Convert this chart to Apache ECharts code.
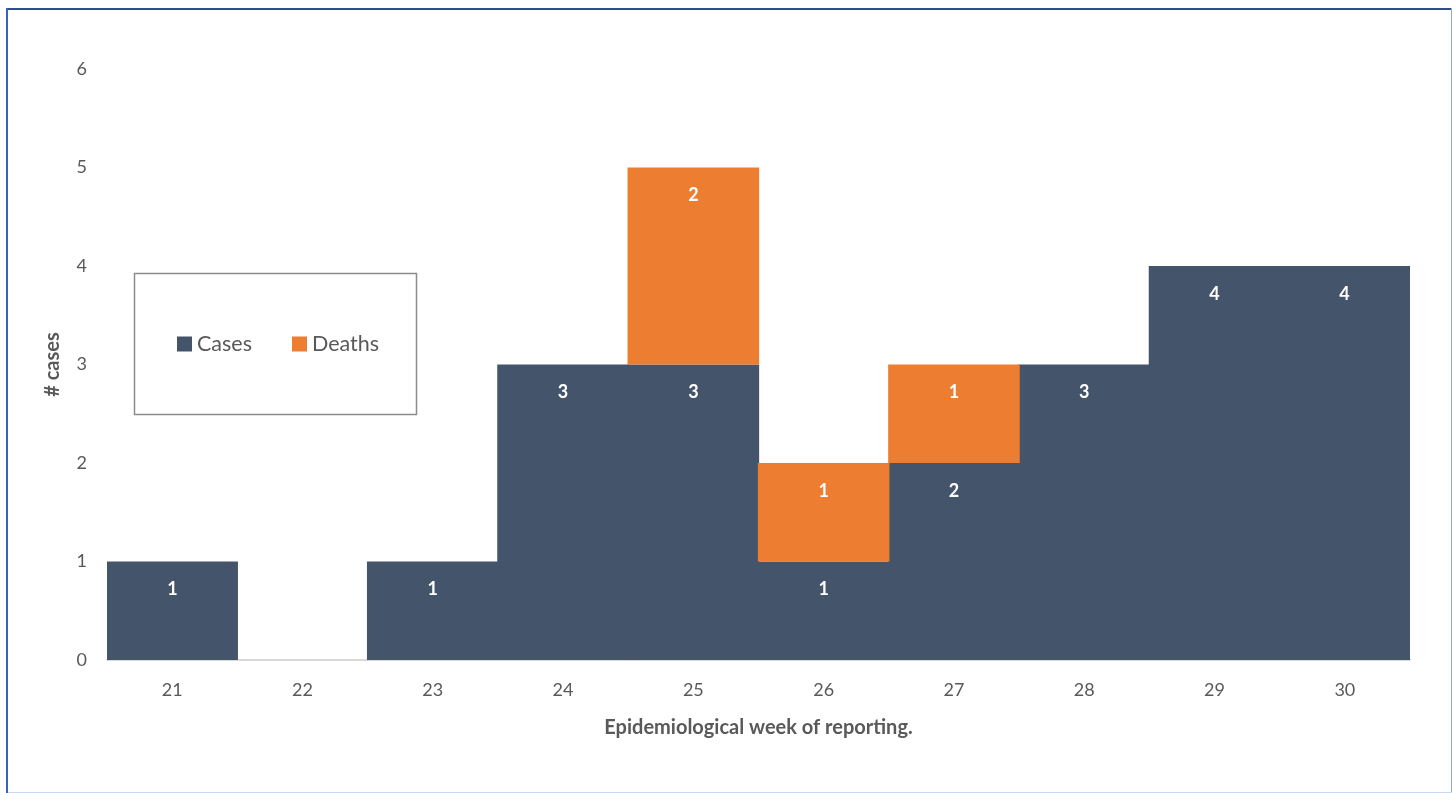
<!DOCTYPE html>
<html>
<head>
<meta charset="utf-8">
<script src="https://cdn.jsdelivr.net/npm/echarts@6/dist/echarts.min.js"></script>
<style>
  html, body { margin: 0; padding: 0; background: #fff; }
  #frame { position: absolute; left: 0; top: 0; width: 1452px; height: 793px; overflow: hidden; }
  #chart { position: absolute; left: 0; top: 0; width: 1452px; height: 793px; }
  .edge { position: absolute; }
</style>
</head>
<body>
<div id="frame">
  <div id="chart"></div>
  <div class="edge" style="left:6px; top:8px; width:1446px; height:2px; background:#2F4E8C;"></div>
  <div class="edge" style="left:6px; top:8px; width:2px; height:785px; background:#3A62B8;"></div>
  <div class="edge" style="left:1451px; top:8px; width:1px; height:785px; background:#8EA9DB;"></div>
  <div class="edge" style="left:8px; top:792px; width:1444px; height:1px; background:#C9D8EE;"></div>
</div>
<script>
// Weekly counts by epidemiological week
const weeks = ['21', '22', '23', '24', '25', '26', '27', '28', '29', '30'];
const cases = [1, 0, 1, 3, 3, 1, 2, 3, 4, 4];
const deaths = [0, 0, 0, 0, 2, 1, 1, 0, 0, 0];

const FONT = 'Lato, "Open Sans", sans-serif';

// empty weeks get no bar segment at all
const asBars = arr => arr.map(v => (v ? v : '-'));

const chart = echarts.init(document.getElementById('chart'));

const barLabel = {
  show: true,
  position: 'insideTop',
  distance: 19,
  color: '#ffffff',
  fontFamily: FONT,
  fontWeight: 'bold',
  fontSize: 18,
  formatter: p => (p.value ? String(p.value) : '')
};

chart.setOption({
  animation: false,
  textStyle: { fontFamily: FONT },
  grid: { left: 107, right: 42, top: 69, bottom: 133 },
  graphic: [{
    type: 'rect',
    shape: { x: 134.5, y: 273.5, width: 282, height: 141 },
    style: { fill: '#ffffff', stroke: '#8c8c8c', lineWidth: 1.5 },
    z: 10
  }],
  legend: {
    left: 172,
    top: 328,
    itemWidth: 15,
    itemHeight: 15,
    itemGap: 40,
    icon: 'rect',
    z: 20,
    textStyle: { fontFamily: FONT, fontSize: 21.5, color: '#595959' },
    data: ['Cases', 'Deaths']
  },
  xAxis: {
    type: 'category',
    data: weeks,
    name: 'Epidemiological week of reporting.',
    nameLocation: 'middle',
    nameGap: 58,
    nameTextStyle: { fontFamily: FONT, fontWeight: 'bold', fontSize: 20, color: '#595959' },
    axisLine: { lineStyle: { color: '#d9d9d9', width: 2 } },
    axisTick: { show: false },
    axisLabel: { color: '#595959', fontSize: 18, margin: 21, fontFamily: FONT }
  },
  yAxis: {
    type: 'value',
    min: 0,
    max: 6,
    interval: 1,
    name: '# cases',
    nameLocation: 'middle',
    nameGap: 44,
    nameRotate: 90,
    nameTextStyle: { fontFamily: FONT, fontWeight: 'bold', fontSize: 20, color: '#595959' },
    axisLine: { show: false },
    axisTick: { show: false },
    splitLine: { show: false },
    axisLabel: { color: '#595959', fontSize: 18, margin: 20, fontFamily: FONT }
  },
  series: [
    {
      name: 'Cases',
      type: 'bar',
      stack: 'total',
      data: asBars(cases),
      barWidth: '101%',
      itemStyle: { color: '#44546A' },
      label: barLabel
    },
    {
      name: 'Deaths',
      type: 'bar',
      stack: 'total',
      data: asBars(deaths),
      barWidth: '101%',
      itemStyle: { color: '#ED7D31' },
      label: barLabel
    }
  ]
});
</script>
</body>
</html>
